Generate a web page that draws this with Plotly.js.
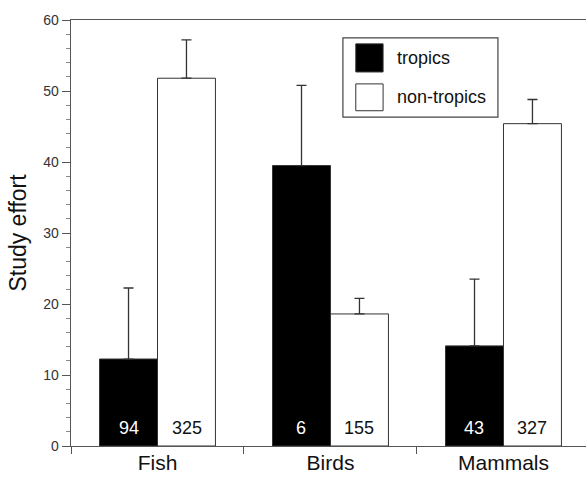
<!DOCTYPE html>
<html>
<head>
<meta charset="utf-8">
<script src="https://cdn.plot.ly/plotly-3.0.1.min.js"></script>
<style>
html,body{margin:0;padding:0;background:#fff;}
#chart{width:586px;height:477px;}
</style>
</head>
<body>
<div id="chart"></div>
<script>
// ---- data ----
var categories = ["Fish", "Birds", "Mammals"];
var seriesNames = ["tropics", "non-tropics"];
var tropicsValues = [12.25, 39.5, 14.1];
var tropicsErrors = [10.0, 11.3, 9.4];
var nonTropicsValues = [51.8, 18.6, 45.4];
var nonTropicsErrors = [5.4, 2.2, 3.4];
var tropicsCounts = ["94", "6", "43"];
var nonTropicsCounts = ["325", "155", "327"];
var yTickValues = [0, 10, 20, 30, 40, 50, 60];
var yTitle = "Study effort";

var FONT = "Liberation Sans, Arial, Helvetica, sans-serif";
var edge = "#333";

var traces = [
  {
    type: "bar", name: seriesNames[0], x: categories, y: tropicsValues,
    marker: {color: "#000", line: {color: edge, width: 1}},
    error_y: {type: "data", array: tropicsErrors, arrayminus: [0,0,0], symmetric: false,
              color: "#333", thickness: 1.3, width: 5},
    hoverinfo: "none"
  },
  {
    type: "bar", name: seriesNames[1], x: categories, y: nonTropicsValues,
    marker: {color: "#fff", line: {color: edge, width: 1}},
    error_y: {type: "data", array: nonTropicsErrors, arrayminus: [0,0,0], symmetric: false,
              color: "#333", thickness: 1.3, width: 5},
    hoverinfo: "none"
  }
];

var annotations = [];
categories.forEach(function (c, i) {
  annotations.push({x: c, y: 0, xref: "x", yref: "y", text: tropicsCounts[i],
    showarrow: false, xshift: -29, yanchor: "bottom", yshift: 6,
    font: {family: FONT, size: 18, color: "#fff"}});
  annotations.push({x: c, y: 0, xref: "x", yref: "y", text: nonTropicsCounts[i],
    showarrow: false, xshift: 29, yanchor: "bottom", yshift: 6,
    font: {family: FONT, size: 18, color: "#111"}});
});

// custom legend (paper coords)
var shapes = [
  {type: "rect", xref: "paper", yref: "paper", x0: 0.528, x1: 0.829, y0: 0.772, y1: 0.958,
   line: {color: "#444", width: 1.2}, fillcolor: "#fff", layer: "above"},
  {type: "rect", xref: "paper", yref: "paper", x0: 0.553, x1: 0.606, y0: 0.878, y1: 0.944,
   line: {color: "#333", width: 1}, fillcolor: "#000", layer: "above"},
  {type: "rect", xref: "paper", yref: "paper", x0: 0.553, x1: 0.606, y0: 0.787, y1: 0.850,
   line: {color: "#333", width: 1}, fillcolor: "#fff", layer: "above"}
];
annotations.push({xref: "paper", yref: "paper", x: 0.629, y: 0.911, xanchor: "left", yanchor: "middle",
  text: seriesNames[0], showarrow: false, font: {family: FONT, size: 18, color: "#111"}});
annotations.push({xref: "paper", yref: "paper", x: 0.629, y: 0.820, xanchor: "left", yanchor: "middle",
  text: seriesNames[1], showarrow: false, font: {family: FONT, size: 18, color: "#111"}});

var layout = {
  width: 586, height: 477,
  margin: {l: 71, r: 0, t: 20, b: 31},
  paper_bgcolor: "#fff", plot_bgcolor: "#fff",
  showlegend: false,
  barmode: "group", bargap: 0.33, bargroupgap: 0,
  font: {family: FONT},
  xaxis: {
    type: "category", range: [-0.5, 2.477],
    showline: true, linecolor: "#555", linewidth: 1.3, mirror: true,
    ticks: "outside", tickson: "boundaries", ticklen: 7, tickcolor: "#555", tickwidth: 1,
    ticklabelstandoff: -3,
    tickfont: {family: FONT, size: 21, color: "#111"},
    showgrid: false, zeroline: false, fixedrange: true
  },
  yaxis: {
    range: [0, 60], tickvals: yTickValues,
    showline: true, linecolor: "#555", linewidth: 1.3,
    ticks: "outside", ticklen: 8, tickcolor: "#555", tickwidth: 1,
    minor: {dtick: 2, ticks: "outside", ticklen: 4, tickcolor: "#888", tickwidth: 1, showgrid: false},
    tickfont: {family: FONT, size: 14, color: "#333"},
    title: {text: yTitle, font: {family: FONT, size: 23, color: "#111"}, standoff: 10},
    showgrid: false, zeroline: false, fixedrange: true
  },
  shapes: shapes,
  annotations: annotations
};

Plotly.newPlot("chart", traces, layout, {displayModeBar: false, staticPlot: true});
</script>
</body>
</html>
